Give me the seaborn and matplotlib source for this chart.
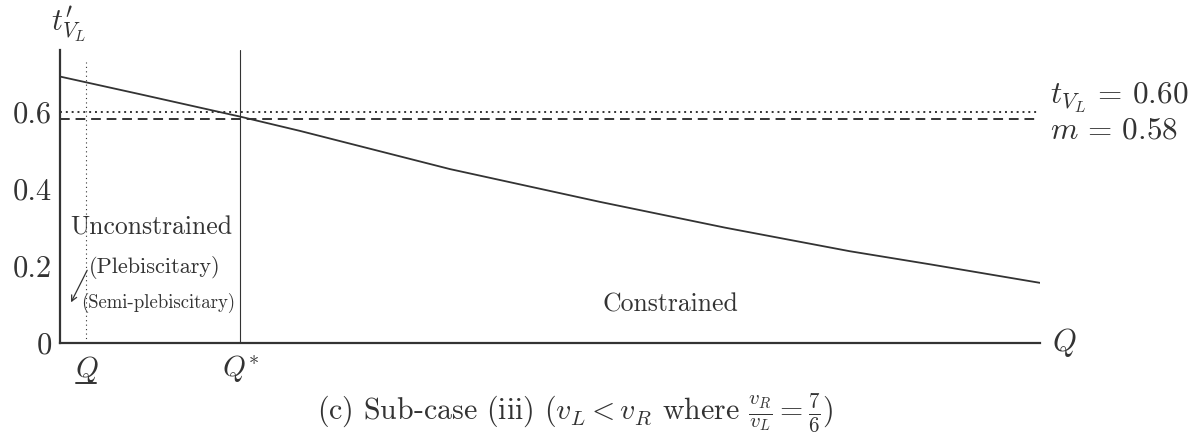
import numpy as np
import pandas as pd
import matplotlib
matplotlib.use("Agg")
import matplotlib.pyplot as plt
from matplotlib.lines import Line2D
import seaborn as sns

# curve (Q scaled 0..1)
q_vals = [0.0, 0.082, 0.184, 0.245, 0.398, 0.551, 0.679, 0.806, 0.888, 1.0]
t_vals = [0.691, 0.645, 0.587, 0.550, 0.451, 0.366, 0.299, 0.238, 0.204, 0.156]
t_vl = 0.60
m_val = 0.58
q_low = 0.027
q_star = 0.184
y_ticks = [0, 0.2, 0.4, 0.6]
y_tick_labels = ["0", "0.2", "0.4", "0.6"]

sns.set_style("white")
plt.rcParams["font.family"] = ["cmr10", "DejaVu Serif"]
plt.rcParams["mathtext.fontset"] = "cm"
plt.rcParams["axes.formatter.use_mathtext"] = True
plt.rcParams["axes.unicode_minus"] = False

ink = "#333333"
df = pd.DataFrame({"Q": q_vals, "t": t_vals})

fig = plt.figure(figsize=(11.95, 4.44), dpi=100)
ax = fig.add_axes([0.0502, 0.2275, 0.820, 0.66])

sns.lineplot(data=df, x="Q", y="t", ax=ax, color=ink, linewidth=1.3)
ax.axhline(t_vl, xmin=0, xmax=1, color=ink, linestyle=(0, (1, 2)), linewidth=1.4)
ax.axhline(m_val, xmin=0, xmax=1, color=ink, linestyle=(0, (5, 3)), linewidth=1.4)
ax.axvline(q_low, ymin=0, ymax=0.96, color=ink, linestyle=(0, (1, 3)), linewidth=0.8)
ax.axvline(q_star, ymin=0, ymax=1.0, color=ink, linewidth=0.8)

ax.set_xlim(0, 1)
ax.set_ylim(0, 0.76)
ax.set_xlabel("")
ax.set_ylabel("")
for s in ["top", "right"]:
    ax.spines[s].set_visible(False)
for s in ["left", "bottom"]:
    ax.spines[s].set_color(ink)
    ax.spines[s].set_linewidth(1.6)

ax.set_yticks(y_ticks)
ax.set_yticklabels(y_tick_labels, fontsize=22, color=ink)
ax.tick_params(axis="y", direction="in", length=7, width=0.8, colors=ink, pad=6)
ax.set_xticks([q_low, q_star])
ax.set_xticklabels(["$Q$", "$Q^{*}$"], fontsize=21, color=ink)
ax.tick_params(axis="x", length=0, pad=8)
# underline for the lower bound label
fig.add_artist(Line2D([0.0636, 0.0803], [0.137, 0.137], color=ink, linewidth=1.4))

# region labels
ax.text(0.010, 0.299, "Unconstrained", fontsize=18.5, color=ink, va="center")
ax.text(0.029, 0.197, "(Plebiscitary)", fontsize=16, color=ink, va="center")
ax.text(0.022, 0.104, "(Semi-plebiscitary)", fontsize=13.5, color=ink, va="center")
ax.annotate("", xy=(0.010, 0.099), xytext=(0.029, 0.195),
            arrowprops=dict(arrowstyle="->", color=ink, lw=0.9))
ax.text(0.623, 0.099, "Constrained", fontsize=18.5, color=ink, ha="center", va="center")

ax.text(1.010, 0.635, "$t_{V_L}\\,=\\,0.60$", fontsize=22.5, color=ink, va="center", clip_on=False)
ax.text(1.010, 0.55, "$m\\,=\\,0.58$", fontsize=22.5, color=ink, va="center", clip_on=False)
ax.text(1.012, 0.0, "$Q$", fontsize=22, color=ink, va="center", clip_on=False)

fig.text(0.043, 0.945, "$t_{V_L}^{\\prime}$", fontsize=22, color=ink, va="center")
fig.text(0.481, 0.07, "(c) Sub-case (iii) ($v_L < v_R$ where $\\frac{v_R}{v_L} = \\frac{7}{6}$)",
         fontsize=21.5, color=ink, ha="center", va="center")

fig.savefig("out.png", dpi=100)
